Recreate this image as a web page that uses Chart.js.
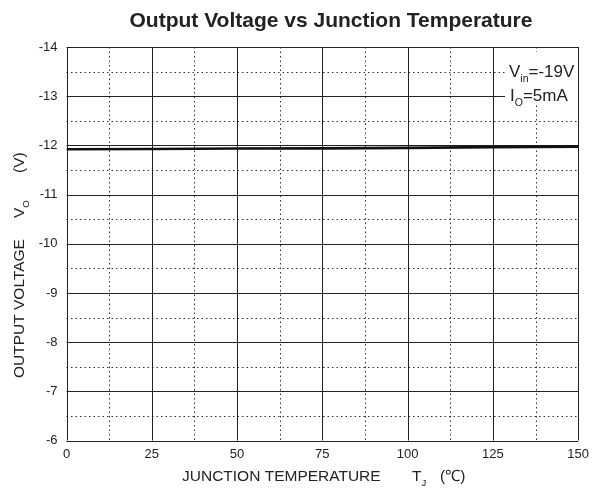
<!DOCTYPE html>
<html>
<head>
<meta charset="utf-8">
<script src="https://cdn.jsdelivr.net/npm/chart.js@4.4.1/dist/chart.umd.min.js"></script>
<style>
  html, body { margin: 0; padding: 0; background: #fff; }
  #wrap { width: 595px; height: 495px; }
</style>
</head>
<body>
<div id="wrap"><canvas id="graf" width="595" height="495"></canvas></div>
<script>
// dados
const temperaturas = [0, 25, 50, 75, 100, 125, 150];
const tensoes = [-11.92, -11.925, -11.935, -11.94, -11.95, -11.965, -11.975];
const ticksX = [0, 25, 50, 75, 100, 125, 150];
const ticksY = [-14, -13, -12, -11, -10, -9, -8, -7, -6];

const FONTE = "Arial, 'Liberation Sans', sans-serif";

// texto com subscrito
function textoSub(ctx, partes, x, y, tam) {
  let cx = x;
  partes.forEach(p => {
    const t = p.sub ? tam * 0.62 : tam;
    ctx.font = t + "px " + FONTE;
    if (p.at !== undefined) cx = x + p.at;
    ctx.fillText(p.t, cx, y + (p.sub ? tam * 0.3 : 0));
    cx += ctx.measureText(p.t).width;
  });
}

/* grade: linhas cheias nos ticks principais, pontilhadas nos intermediarios */
const grade = {
  id: "grade",
  beforeDatasetsDraw(chart) {
    const { ctx, chartArea: a, scales: { x, y } } = chart;
    ctx.save();
    ctx.lineWidth = 1;
    // pontilhadas
    ctx.strokeStyle = "#333";
    ctx.setLineDash([1.5, 3]);
    for (let i = 0; i < ticksX.length - 1; i++) {
      const px = Math.round(x.getPixelForValue((ticksX[i] + ticksX[i + 1]) / 2)) + 0.5;
      ctx.beginPath(); ctx.moveTo(px, a.top); ctx.lineTo(px, a.bottom); ctx.stroke();
    }
    for (let i = 0; i < ticksY.length - 1; i++) {
      const py = Math.round(y.getPixelForValue((ticksY[i] + ticksY[i + 1]) / 2)) + 0.5;
      ctx.beginPath(); ctx.moveTo(a.left, py); ctx.lineTo(a.right, py); ctx.stroke();
    }
    // cheias
    ctx.setLineDash([]);
    ctx.strokeStyle = "#222";
    ticksX.forEach(v => {
      const px = Math.round(x.getPixelForValue(v)) + 0.5;
      ctx.beginPath(); ctx.moveTo(px, a.top); ctx.lineTo(px, a.bottom); ctx.stroke();
    });
    ticksY.forEach(v => {
      const py = Math.round(y.getPixelForValue(v)) + 0.5;
      ctx.beginPath(); ctx.moveTo(a.left, py); ctx.lineTo(a.right, py); ctx.stroke();
    });

    // caixa da legenda (fundo branco)
    ctx.fillStyle = "#fff";
    ctx.fillRect(505, 52, 73, 52);
    ctx.fillStyle = "#222";
    ctx.textBaseline = "alphabetic";
    ctx.textAlign = "left";
    textoSub(ctx, [{ t: "V" }, { t: "in", sub: true }, { t: "=-19V" }], 509, 77, 17);
    textoSub(ctx, [{ t: "I" }, { t: "O", sub: true }, { t: "=5mA" }], 510, 101, 17);
    ctx.restore();
  }
};

/* titulos */
const titulos = {
  id: "titulos",
  afterDraw(chart) {
    const { ctx } = chart;
    ctx.save();
    ctx.fillStyle = "#222";
    ctx.textBaseline = "alphabetic";
    ctx.textAlign = "left";
    ctx.font = "bold 21px " + FONTE;
    const tit = "Output Voltage vs Junction Temperature";
    ctx.fillText(tit, 331 - ctx.measureText(tit).width / 2, 27);

    // eixo x: posicoes relativas ao inicio do texto
    textoSub(ctx, [
      { t: "JUNCTION TEMPERATURE" },
      { t: "T", at: 230 }, { t: "J", sub: true },
      { t: "(\u2103)", at: 258 }
    ], 182, 481, 15.5);

    // eixo y
    ctx.translate(24, 378);
    ctx.rotate(-Math.PI / 2);
    textoSub(ctx, [
      { t: "OUTPUT VOLTAGE" },
      { t: "V", at: 160 }, { t: "O", sub: true },
      { t: "(V)", at: 205 }
    ], 0, 0, 15.5);
    ctx.restore();
  }
};

new Chart(document.getElementById("graf"), {
  type: "line",
  plugins: [grade, titulos],
  data: {
    datasets: [{
      data: temperaturas.map((t, i) => ({ x: t, y: tensoes[i] })),
      borderColor: "#111",
      borderWidth: 2.6,
      pointRadius: 0,
      tension: 0
    }]
  },
  options: {
    responsive: false,
    animation: false,
    layout: { padding: { top: 47, right: 14, left: 0, bottom: 0 } },
    plugins: { legend: { display: false }, tooltip: { enabled: false } },
    scales: {
      x: {
        type: "linear",
        min: 0, max: 150,
        afterBuildTicks: s => { s.ticks = ticksX.map(v => ({ value: v })); },
        afterFit: s => { s.height = 54.5; },
        grid: { display: false, drawTicks: false },
        border: { display: false },
        ticks: { color: "#222", font: { size: 13, family: FONTE }, padding: 6, maxRotation: 0 }
      },
      y: {
        type: "linear",
        reverse: true,
        min: -14, max: -6,
        afterBuildTicks: s => { s.ticks = ticksY.map(v => ({ value: v })); },
        afterFit: s => { s.width = 66.5; },
        grid: { display: false, drawTicks: false },
        border: { display: false },
        ticks: { color: "#222", font: { size: 13, family: FONTE }, padding: 9 }
      }
    }
  }
});
</script>
</body>
</html>
